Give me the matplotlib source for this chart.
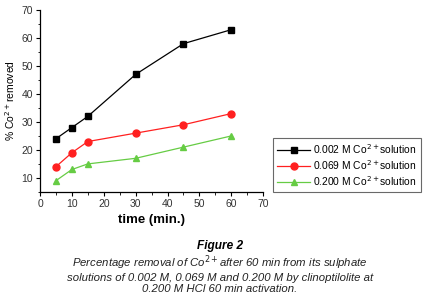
import matplotlib
matplotlib.use("Agg")
import matplotlib.pyplot as plt
from matplotlib.ticker import MultipleLocator

plt.rcParams['font.family'] = ['Liberation Sans', 'DejaVu Sans']

time = [5, 10, 15, 30, 45, 60]
s_0002 = [24, 28, 32, 47, 58, 63]
s_0069 = [14, 19, 23, 26, 29, 33]
s_0200 = [9, 13, 15, 17, 21, 25]
labels = ["0.002 M Co$^{2+}$solution", "0.069 M Co$^{2+}$solution", "0.200 M Co$^{2+}$solution"]

fig = plt.figure(figsize=(4.35, 2.97), dpi=100)
ax = fig.add_axes([0.092, 0.354, 0.513, 0.612])

ax.plot(time, s_0002, color='black', marker='s', ms=5, lw=0.9, label=labels[0])
ax.plot(time, s_0069, color='#ff2020', marker='o', ms=5, lw=0.9, label=labels[1])
ax.plot(time, s_0200, color='#66cc44', marker='^', ms=5, lw=0.9, label=labels[2])

ax.set_xlim(0, 70)
ax.set_ylim(5, 70)
ax.xaxis.set_major_locator(MultipleLocator(10))
ax.xaxis.set_minor_locator(MultipleLocator(5))
ax.yaxis.set_major_locator(MultipleLocator(10))
ax.yaxis.set_minor_locator(MultipleLocator(5))
for s in ['top', 'right']:
    ax.spines[s].set_visible(False)
for s in ['left', 'bottom']:
    ax.spines[s].set_linewidth(0.9)
ax.tick_params(which='major', direction='out', length=3, width=0.8, labelsize=7.5, labelcolor='#333333', pad=2)
ax.tick_params(which='minor', direction='out', length=1.8, width=0.6)

ax.set_xlabel("time (min.)", fontsize=9.5, fontweight='bold', labelpad=4)
ax.set_ylabel("% Co$^{2+}$removed", fontsize=7.5, labelpad=3)

leg = fig.legend(loc='upper left', bbox_to_anchor=(273/435, 1 - 138/297), fontsize=7.4,
                 frameon=True, fancybox=False, edgecolor='#444444', handlelength=3.2,
                 borderpad=0.4, labelspacing=0.2, handletextpad=0.3, borderaxespad=0)
leg.get_frame().set_linewidth(0.8)

fig.text(0.506, 1 - 246/297, "Figure 2", ha='center', va='center', fontsize=8.6, fontweight='bold', style='italic')
fig.text(0.506, 1 - 274/297,
         "Percentage removal of Co$^{2+}$after 60 min from its sulphate\n"
         "solutions of 0.002 M, 0.069 M and 0.200 M by clinoptilolite at\n"
         "0.200 M HCl 60 min activation.",
         ha='center', va='center', fontsize=8.2, style='italic', linespacing=1.1, color='#222222')

fig.savefig("out.png", dpi=100)
